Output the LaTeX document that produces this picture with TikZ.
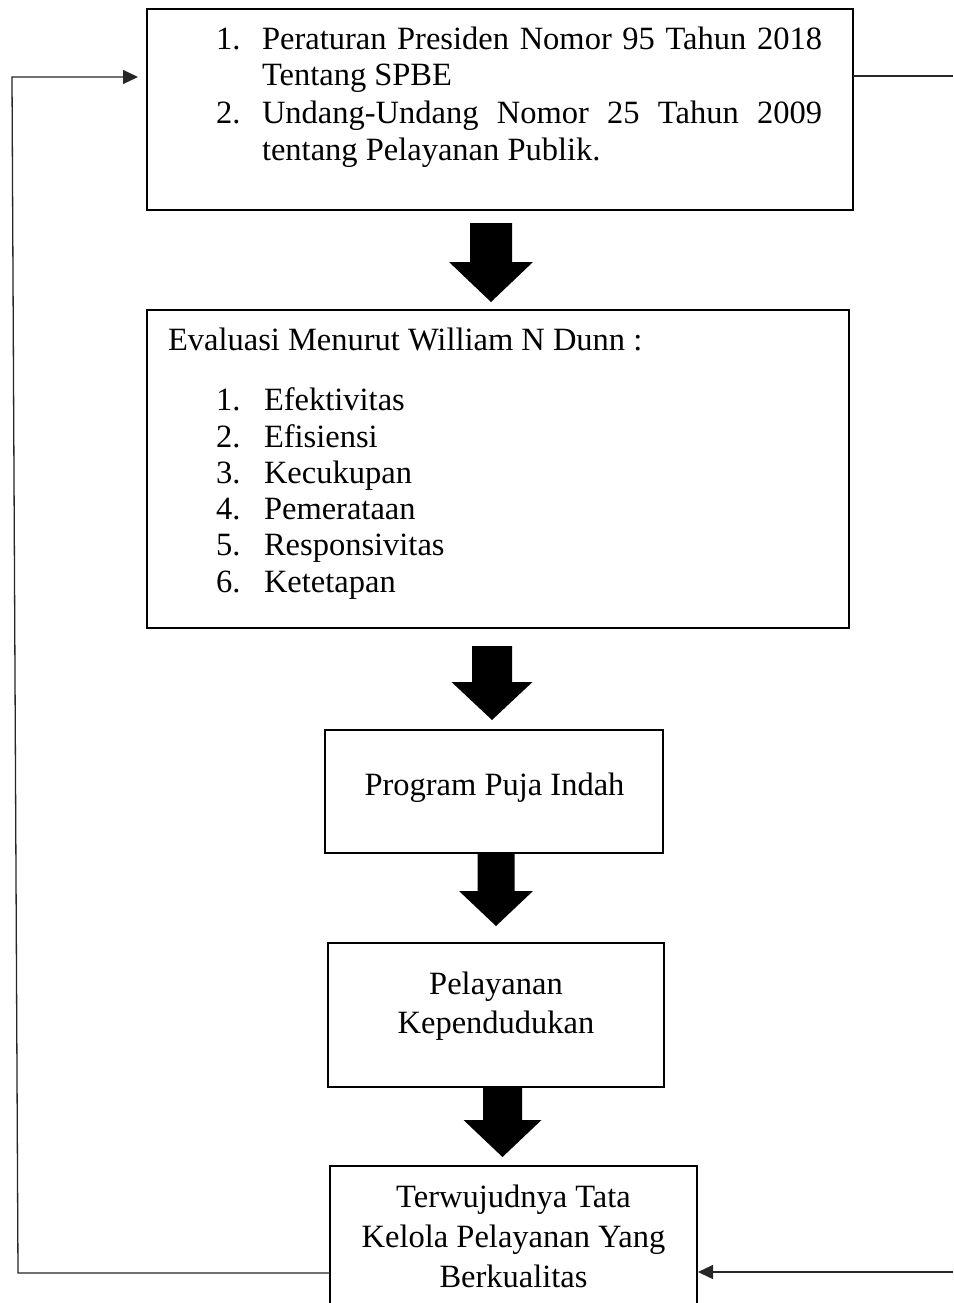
\documentclass[tikz,border=0pt]{standalone}
\usepackage{fontspec}
\setmainfont{Liberation Serif}
\usetikzlibrary{arrows.meta}
\newcommand\downblockarrow[6]{% #1 cx, #2 shaft half width, #3 head half width, #4 top, #5 head start, #6 tip
  \fill[black] (#1-#2,#4) -- (#1+#2,#4) -- (#1+#2,#5) -- (#1+#3,#5) -- (#1,#6) -- (#1-#3,#5) -- (#1-#2,#5) -- cycle;}
\begin{document}
\begin{tikzpicture}[x=1pt,y=-1pt,
  box/.style={draw=black, line width=2.6pt, rectangle, inner sep=0pt, outer sep=0pt},
  txt/.style={inner sep=0pt, outer sep=0pt, font=\fontsize{32.5}{36.7}\selectfont},
  conn/.style={draw=black!85, line width=1.3pt},
  tip/.style={-{Triangle[length=15pt,width=14pt]}}]
\useasboundingbox (0,0) rectangle (953,1303);
\clip (0,0) rectangle (953,1303);
\fill[white] (0,0) rectangle (953,1303);

% boxes
\node[box, minimum width=706pt, minimum height=201pt] (b1) at (500,109.5) {};
\node[box, minimum width=702pt, minimum height=318pt] (b2) at (498,469) {};
\node[box, minimum width=338pt, minimum height=123pt] (b3) at (494,791.5) {};
\node[box, minimum width=336pt, minimum height=144pt] (b4) at (496,1015) {};
\node[box, minimum width=367pt, minimum height=164pt] (b5) at (513.5,1248) {};

% box 1 text
\node[txt, anchor=base west] (n11) at (216,50) {1.};
\node[txt, anchor=base west] (t11) at (262,50) {\makebox[560pt][s]{Peraturan Presiden Nomor 95 Tahun 2018}};
\node[txt, anchor=base west] (t12) at (262,86) {Tentang SPBE};
\node[txt, anchor=base west] (n12) at (216,124) {2.};
\node[txt, anchor=base west] (t13) at (262,124) {\makebox[560pt][s]{Undang-Undang Nomor 25 Tahun 2009}};
\node[txt, anchor=base west] (t14) at (262,160) {tentang Pelayanan Publik.};

% box 2 text
\node[txt, anchor=base west] (t20) at (168,350) {Evaluasi Menurut William N Dunn :};
\node[txt, anchor=base west] (n21) at (216,410) {1.};
\node[txt, anchor=base west] (t21) at (264,410) {Efektivitas};
\node[txt, anchor=base west] (n22) at (216,447) {2.};
\node[txt, anchor=base west] (t22) at (264,447) {Efisiensi};
\node[txt, anchor=base west] (n23) at (216,483) {3.};
\node[txt, anchor=base west] (t23) at (264,483) {Kecukupan};
\node[txt, anchor=base west] (n24) at (216,519) {4.};
\node[txt, anchor=base west] (t24) at (264,519) {Pemerataan};
\node[txt, anchor=base west] (n25) at (216,555) {5.};
\node[txt, anchor=base west] (t25) at (264,555) {Responsivitas};
\node[txt, anchor=base west] (n26) at (216,592) {6.};
\node[txt, anchor=base west] (t26) at (264,592) {Ketetapan};

% box 3-5 text
\node[txt, anchor=base] (t31) at (494.5,795) {Program Puja Indah};
\node[txt, anchor=base] (t41) at (496,994) {Pelayanan};
\node[txt, anchor=base] (t42) at (496,1033) {Kependudukan};
\node[txt, anchor=base] (t51) at (513.5,1207) {Terwujudnya Tata};
\node[txt, anchor=base] (t52) at (513.5,1247) {Kelola Pelayanan Yang};
\node[txt, anchor=base] (t53) at (513.5,1287) {Berkualitas};

% block arrows between boxes
\downblockarrow{491}{21}{42}{223}{262}{302}
\downblockarrow{492}{20}{40.5}{646}{682}{720}
\downblockarrow{496}{18.5}{37}{854}{891}{926}
\downblockarrow{502.5}{19.5}{39}{1087}{1120}{1157}

% feedback connectors
\coordinate (ltop) at (12,77);
\coordinate (lbot) at (18,1273);
\coordinate (rtop) at (953,76);
\coordinate (rbot) at (953,1272);
\draw[conn, tip, shorten >=9pt] (b5.west |- lbot) -- (lbot) -- (ltop) -- (b1.west |- ltop);
\draw[conn] (b1.east |- rtop) -- (rtop);
\draw[conn, tip, shorten >=1pt] (rbot) -- (b5.east |- rbot);
\end{tikzpicture}
\end{document}
